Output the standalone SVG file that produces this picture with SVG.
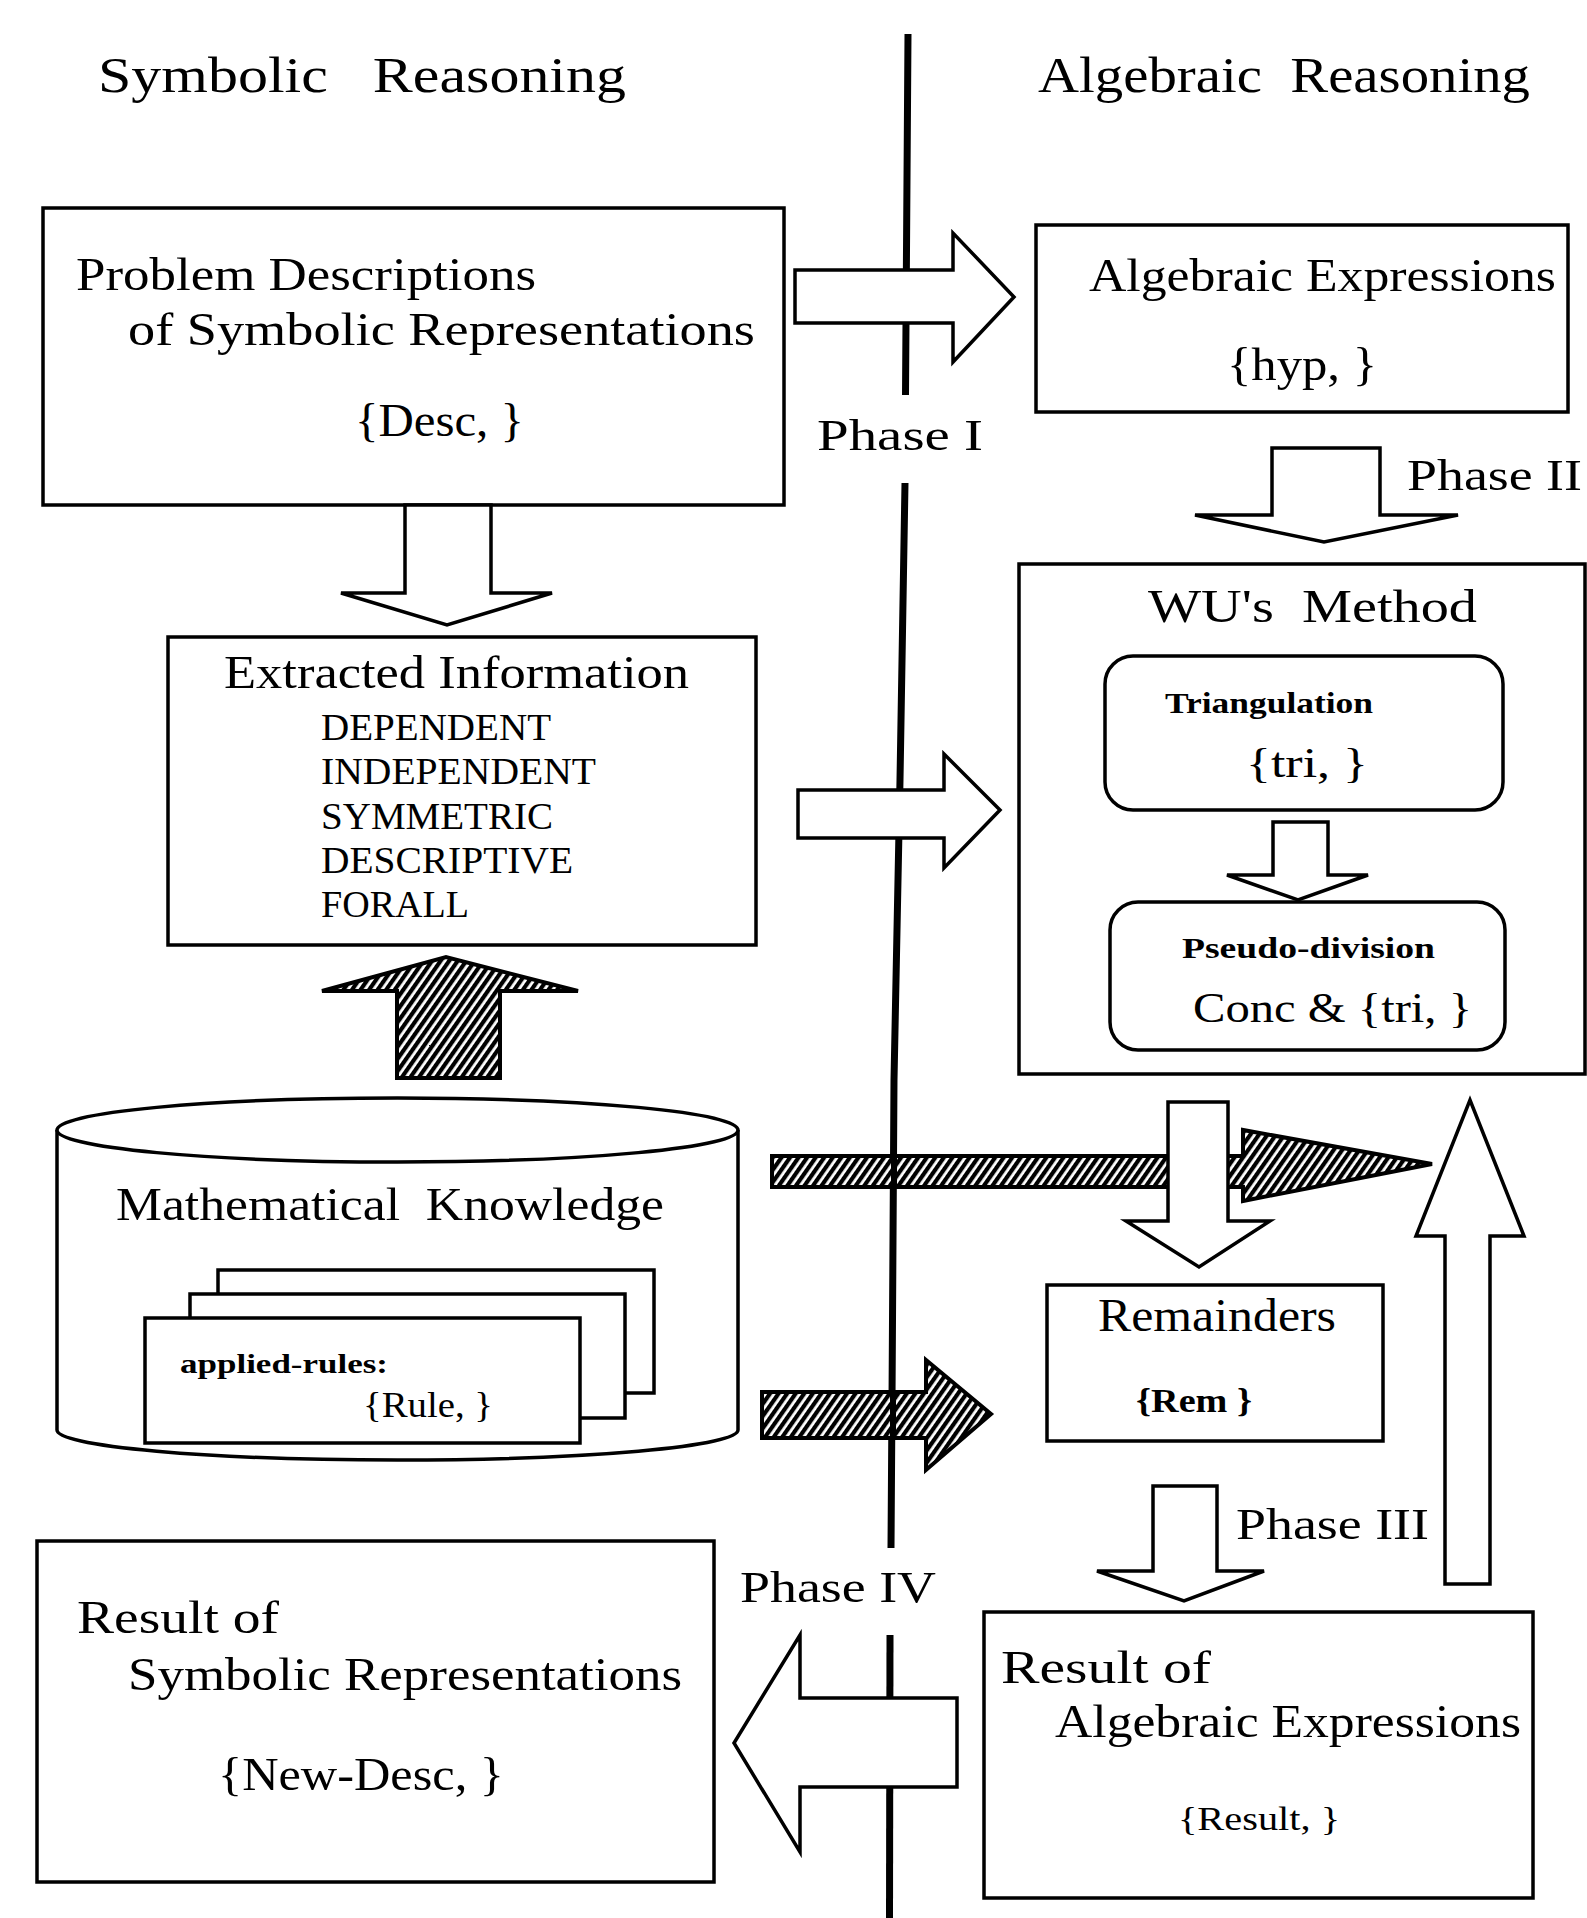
<svg xmlns="http://www.w3.org/2000/svg" width="1587" height="1918" viewBox="0 0 1587 1918">
<style>
text{font-family:"Liberation Serif","Times New Roman",serif;fill:#000}
.t{font-size:46px}
.ph{font-size:44px}
.sm{font-size:38px}
.b{font-weight:bold}
.box{fill:#fff;stroke:#000;stroke-width:3.5}
.wa{fill:#fff;stroke:#000;stroke-width:3.5;stroke-linejoin:miter}
.ha{fill:url(#hatch);stroke:#000;stroke-width:4;stroke-linejoin:miter}
.axis{fill:none;stroke:#000;stroke-width:7}
</style>
<defs>
<pattern id="hatch" patternUnits="userSpaceOnUse" width="7" height="7" patternTransform="rotate(-55)">
<rect width="7" height="7" fill="#fff"/>
<rect width="7" height="4.2" fill="#000"/>
</pattern>
</defs>
<rect width="1587" height="1918" fill="#fff"/>

<g id="titles">
<text x="98" y="92" style="font-size:50px;white-space:pre" textLength="528" lengthAdjust="spacingAndGlyphs">Symbolic   Reasoning</text>
<text x="1038" y="92" style="font-size:50px;white-space:pre" textLength="492" lengthAdjust="spacingAndGlyphs">Algebraic  Reasoning</text>
</g>

<g id="divider">
<polyline class="axis" points="908,34 906.5,250 905.5,395"/>
<polyline class="axis" points="905,483 900,780 894,1080 892,1400 891,1548"/>
<polyline class="axis" points="890,1635 889.5,1918"/>
</g>

<g id="phase-labels">
<text class="ph" x="817" y="450" textLength="166" lengthAdjust="spacingAndGlyphs">Phase I</text>
<text class="ph" x="1407" y="490" textLength="175" lengthAdjust="spacingAndGlyphs">Phase II</text>
<text class="ph" x="1236" y="1539" textLength="193" lengthAdjust="spacingAndGlyphs">Phase III</text>
<text class="ph" x="740" y="1602" textLength="196" lengthAdjust="spacingAndGlyphs">Phase IV</text>
</g>

<g id="problem-descriptions">
<rect class="box" x="43" y="208" width="741" height="297"/>
<text class="t" x="76" y="290" textLength="460" lengthAdjust="spacingAndGlyphs">Problem Descriptions</text>
<text class="t" x="128" y="345" textLength="627" lengthAdjust="spacingAndGlyphs">of Symbolic Representations</text>
<text class="t" x="355" y="436" textLength="169" lengthAdjust="spacingAndGlyphs">{Desc, }</text>
</g>

<g id="algebraic-expressions">
<rect class="box" x="1036" y="225" width="532" height="187"/>
<text class="t" x="1089" y="291" textLength="467" lengthAdjust="spacingAndGlyphs">Algebraic Expressions</text>
<text class="t" x="1227" y="380" textLength="150" lengthAdjust="spacingAndGlyphs">{hyp, }</text>
</g>

<g id="extracted-information">
<rect class="box" x="168" y="637" width="588" height="308"/>
<text class="t" x="224" y="688" textLength="465" lengthAdjust="spacingAndGlyphs">Extracted Information</text>
<text class="sm" x="321" y="740" textLength="230" lengthAdjust="spacingAndGlyphs">DEPENDENT</text>
<text class="sm" x="321" y="784" textLength="275" lengthAdjust="spacingAndGlyphs">INDEPENDENT</text>
<text class="sm" x="321" y="829" textLength="232" lengthAdjust="spacingAndGlyphs">SYMMETRIC</text>
<text class="sm" x="321" y="873" textLength="252" lengthAdjust="spacingAndGlyphs">DESCRIPTIVE</text>
<text class="sm" x="321" y="917" textLength="148" lengthAdjust="spacingAndGlyphs">FORALL</text>
</g>

<g id="wus-method">
<rect class="box" x="1019" y="564" width="566" height="510"/>
<text class="t" x="1148" y="622" style="white-space:pre" textLength="329" lengthAdjust="spacingAndGlyphs">WU's  Method</text>
</g>

<g id="triangulation">
<rect class="box" x="1105" y="656" width="398" height="154" rx="28"/>
<text class="b" x="1165" y="713" style="font-size:30px" textLength="208" lengthAdjust="spacingAndGlyphs">Triangulation</text>
<text x="1246" y="777" style="font-size:42px" textLength="122" lengthAdjust="spacingAndGlyphs">{tri, }</text>
</g>

<g id="pseudo-division">
<rect class="box" x="1110" y="902" width="395" height="148" rx="28"/>
<text class="b" x="1182" y="958" style="font-size:30px" textLength="253" lengthAdjust="spacingAndGlyphs">Pseudo-division</text>
<text x="1193" y="1022" style="font-size:42px;white-space:pre" textLength="279" lengthAdjust="spacingAndGlyphs">Conc &amp; {tri, }</text>
</g>

<g id="mathematical-knowledge">
<path class="box" d="M57,1130 L57,1430 A340.5,30 0 0 0 738,1430 L738,1130"/>
<ellipse class="box" cx="397.5" cy="1130" rx="340.5" ry="32"/>
<text class="t" x="116" y="1220" style="white-space:pre" textLength="548" lengthAdjust="spacingAndGlyphs">Mathematical  Knowledge</text>
<rect class="box" x="218" y="1270" width="436" height="123"/>
<rect class="box" x="190" y="1294" width="435" height="124"/>
<rect class="box" x="145" y="1318" width="435" height="125"/>
<text class="b" x="180" y="1373" style="font-size:28px" textLength="208" lengthAdjust="spacingAndGlyphs">applied-rules:</text>
<text x="363" y="1417" style="font-size:36px" textLength="130" lengthAdjust="spacingAndGlyphs">{Rule, }</text>
</g>

<g id="remainders">
<rect class="box" x="1047" y="1285" width="336" height="156"/>
<text class="t" x="1098" y="1331" textLength="238" lengthAdjust="spacingAndGlyphs">Remainders</text>
<text class="b" x="1136" y="1412" style="font-size:34px" textLength="116" lengthAdjust="spacingAndGlyphs">{Rem }</text>
</g>

<g id="result-symbolic">
<rect class="box" x="37" y="1541" width="677" height="341"/>
<text class="t" x="77" y="1633" textLength="202" lengthAdjust="spacingAndGlyphs">Result of</text>
<text class="t" x="128" y="1690" textLength="554" lengthAdjust="spacingAndGlyphs">Symbolic Representations</text>
<text class="t" x="218" y="1790" textLength="286" lengthAdjust="spacingAndGlyphs">{New-Desc, }</text>
</g>

<g id="result-algebraic">
<rect class="box" x="984" y="1612" width="549" height="286"/>
<text class="t" x="1001" y="1683" textLength="210" lengthAdjust="spacingAndGlyphs">Result of</text>
<text class="t" x="1055" y="1737" textLength="466" lengthAdjust="spacingAndGlyphs">Algebraic Expressions</text>
<text x="1178" y="1830" style="font-size:34px" textLength="162" lengthAdjust="spacingAndGlyphs">{Result, }</text>
</g>

<g id="connectors">
<path id="arrow-phase1" class="wa" d="M795,270 L953,270 L953,233 L1014,297 L953,362 L953,323 L795,323 Z"/>
<path id="arrow-extract-wu" class="wa" d="M798,790 L944,790 L944,754 L1000,810 L944,868 L944,838 L798,838 Z"/>
<path id="arrow-phase2" class="wa" d="M1272,448 L1380,448 L1380,515 L1458,515 L1324,542 L1195,515 L1272,515 Z"/>
<path id="arrow-desc-extract" class="wa" d="M405,505 L491,505 L491,593 L552,593 L447,625 L341,593 L405,593 Z"/>
<path id="arrow-know-extract" class="ha" d="M397,1078 L500,1078 L500,991 L578,991 L446,957 L322,991 L397,991 Z"/>
<path id="arrow-tri-pseudo" class="wa" d="M1273,822 L1328,822 L1328,875 L1368,875 L1298,900 L1227,875 L1273,875 Z"/>
<path id="arrow-know-wu" class="ha" d="M772,1156 L1243,1156 L1243,1130 L1432,1164 L1243,1201 L1243,1187 L772,1187 Z"/>
<path id="arrow-wu-rem" class="wa" d="M1168,1102 L1228,1102 L1228,1221 L1270,1221 L1199,1267 L1126,1221 L1168,1221 Z"/>
<path id="arrow-know-rem" class="ha" d="M762,1392 L926,1392 L926,1360 L991,1414 L926,1470 L926,1438 L762,1438 Z"/>
<path id="arrow-return" class="wa" d="M1445,1584 L1490,1584 L1490,1236 L1524,1236 L1470,1100 L1416,1236 L1445,1236 Z"/>
<path id="arrow-phase3" class="wa" d="M1153,1486 L1217,1486 L1217,1571 L1264,1571 L1184,1601 L1097,1571 L1153,1571 Z"/>
<path id="arrow-phase4" class="wa" d="M957,1698 L800,1698 L800,1635 L734,1743 L800,1852 L800,1787 L957,1787 Z"/>
<line x1="894" y1="1156" x2="894" y2="1187" stroke="#000" stroke-width="6"/>
<line x1="893" y1="1392" x2="893" y2="1438" stroke="#000" stroke-width="6"/>
</g>
</svg>
